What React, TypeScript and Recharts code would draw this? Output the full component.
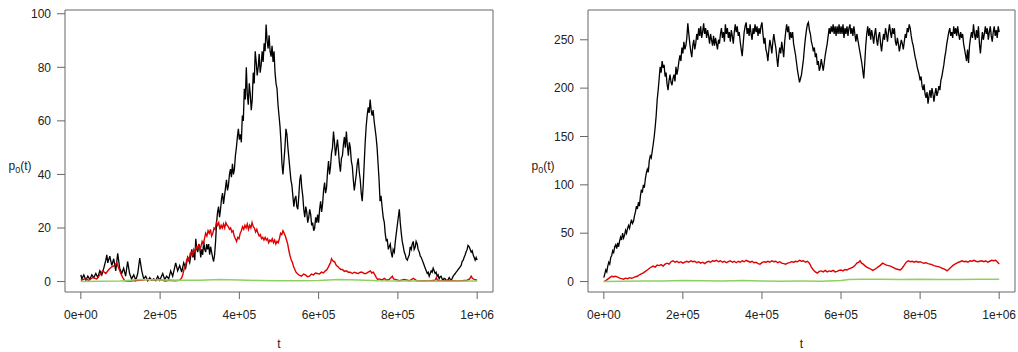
import React from "react";
import { LineChart, Line, XAxis, YAxis, ReferenceArea } from "recharts";

const FONT = "'Liberation Sans', Arial, Helvetica, sans-serif";
const TEXT = "#222";
const FRAME = "#666";

// t is given in thousands (1000 = 1e+06)
const xDomain: [number, number] = [-40, 1040];
const xTicks = [0, 200, 400, 600, 800, 1000];
const xTickLabels = ["0e+00", "2e+05", "4e+05", "6e+05", "8e+05", "1e+06"];
const xTitle = "t";
const yTitleMain = "p";
const yTitleSub = "0";
const yTitleTail = "(t)";

const leftYDomain: [number, number] = [-3.9, 101.4];
const leftYTicks = [0, 20, 40, 60, 80, 100];
const rightYDomain: [number, number] = [-10.8, 280.8];
const rightYTicks = [0, 50, 100, 150, 200, 250];

const leftBlack: [number, number][] = [
  [0, 2.5], [2.5, 1], [7.5, 2.5], [12.6, 0.5], [17.6, 2], [22.7, 0.8], [27.7, 2.5], [32.7, 1.5], [37.8, 3], [42.8, 1.5],
  [47.9, 4], [52.9, 2.5], [57.9, 5], [63, 8], [65.5, 10], [68, 7], [73, 9.5], [78, 6], [83, 8.5], [88, 4],
  [93, 10.5], [98, 5], [103, 3], [108, 5], [113, 2], [118, 7.5], [123, 3], [128, 1], [133.5, 2.5], [138.5, 0.5],
  [143.6, 3], [148.6, 8.8], [153.7, 4], [158.7, 1], [163.7, 2], [168.8, 0.3], [173.8, 1.5], [178.8, 0.5], [184, 1], [189, 0.3],
  [194, 2], [199, 0.5], [206.6, 3], [211.6, 0.8], [216.6, 2], [221.7, 1], [226.7, 4], [231.7, 2], [239.3, 7], [244.3, 4],
  [249.4, 6], [254.4, 3.5], [259.5, 7], [264.5, 5], [269.5, 9], [274.6, 7],
  [280, 12], [282.5, 9], [285, 11], [287.5, 8], [290, 16], [292.5, 12], [295, 11], [297.5, 14], [300, 13], [302.5, 9],
  [305, 12], [307.5, 10], [310, 15], [312.5, 12], [315, 11], [317.5, 14], [320, 12], [322.5, 14], [325, 10], [327.5, 13],
  [330, 11], [332.5, 9], [335, 7.5], [337.5, 10], [340, 15], [342.5, 22], [345, 26], [347.5, 28], [350, 24], [352.5, 27],
  [355, 31], [357.5, 33], [360, 29], [362.5, 32], [365, 35], [367.5, 38], [370, 34], [372.5, 36], [375, 40], [377.5, 42],
  [380, 39], [382.5, 44], [385, 40], [387.5, 42], [390, 47], [392.5, 50], [395, 54], [397.5, 57], [400, 53], [402.5, 55],
  [405, 52], [407.5, 62], [410, 60], [412.5, 72], [415, 68], [417.5, 80], [420, 70], [422.5, 66], [425, 74], [427.5, 70],
  [430, 64], [432.5, 68], [435, 78], [437.5, 74], [440, 86], [442.5, 82], [445, 77], [447.5, 80], [450, 85], [452.5, 78],
  [455, 81], [457.5, 86], [460, 82], [462.5, 89], [465, 86], [467.5, 96], [470, 90], [472.5, 87], [475, 92], [477.5, 86],
  [480, 84], [482.5, 88], [485, 82], [487.5, 86], [490, 78], [492.5, 74], [495, 72], [497.5, 66], [500, 62], [502.5, 58],
  [505, 52], [507.5, 44], [510, 40], [512.5, 45], [515, 50], [517.5, 57], [520, 55], [522.5, 50], [525, 46], [527.5, 42],
  [530, 38], [532.5, 36], [535, 32], [537.5, 28], [540, 31], [542.5, 32], [545, 28], [547.5, 27], [550, 32], [552.5, 38],
  [555, 40], [557.5, 35], [560, 32], [562.5, 27], [565, 24], [567.5, 28], [570, 26], [572.5, 22], [575, 24], [577.5, 27],
  [580, 25], [582.5, 21], [585, 22], [587.5, 19], [590, 20], [592.5, 24], [595, 22], [597.5, 25], [600, 22], [602.5, 27],
  [605, 30], [607.5, 26], [610, 29], [612.5, 34], [615, 37], [617.5, 33], [620, 35], [622.5, 41], [625, 45], [627.5, 40],
  [630, 43], [632.5, 48], [635, 50], [637.5, 56], [640, 52], [642.5, 47], [645, 50], [647.5, 53], [650, 49], [652.5, 44],
  [655, 41], [657.5, 46], [660, 47], [662.5, 51], [665, 54], [667.5, 50], [670, 56], [672.5, 51], [675, 47], [677.5, 52],
  [680, 50], [682.5, 45], [685, 43], [687.5, 38], [690, 34], [692.5, 37], [695, 40], [697.5, 44], [700, 46], [702.5, 41],
  [705, 38], [707.5, 33], [710, 30], [712.5, 36], [715, 44], [717.5, 52], [720, 58], [722.5, 62], [725, 65], [727.5, 63],
  [730, 68], [732.5, 64], [735, 62], [737.5, 64], [740, 60], [742.5, 57], [745, 54], [747.5, 50], [750, 44], [752.5, 38],
  [755, 30], [757.5, 32], [760.7, 27], [763, 24], [765.8, 22], [768, 18], [770.8, 15], [773, 16], [775.9, 12], [778, 13],
  [780.9, 14], [783, 11], [785.9, 9], [788, 12], [791, 11], [793.5, 15], [796, 18], [798.5, 21], [801, 24], [803.6, 27],
  [806, 22], [808.6, 18], [811, 15], [813.6, 13], [816, 11], [818.7, 10], [821, 8.5], [823.7, 8], [826, 9], [828.8, 10],
  [831, 13], [833.8, 12], [836, 14], [838.8, 15], [841, 12], [843.9, 13], [846, 15], [848.9, 14], [851, 12], [854, 11],
  [856.5, 9.5], [859, 9], [861.5, 8], [864, 7], [866.5, 6], [869, 5], [871.5, 4], [874, 3], [876.5, 3.5], [879, 2],
  [881.5, 3], [884, 4], [886.5, 3.5], [889, 5], [891.5, 4], [894, 3], [896.5, 3.5], [899, 2], [901.5, 2.5], [904, 1],
  [906.5, 1.8], [909, 2], [911.5, 1], [914, 0.5], [916.5, 1.2], [919, 1], [921.5, 0.6], [924.5, 0.3], [927, 0.8], [929.5, 1.5],
  [932, 0.8], [934.5, 0.5], [937, 1.2], [939.6, 2], [942, 2.5], [944.6, 3], [947, 3.5], [949.7, 4], [952, 4.5], [954.7, 5],
  [957, 5.5], [959.7, 6], [962, 7.5], [964.8, 8], [967, 9], [969.8, 10], [972, 11], [974.8, 12], [977, 13.5], [980, 13],
  [982.5, 12], [985, 11], [987.5, 11.5], [990, 10], [992.5, 9], [995, 8], [997.5, 9], [1000, 8],
];

const leftRed: [number, number][] = [
  [0, 0.5], [10, 1], [20, 0.5], [30, 1.5], [40, 1], [48, 2.5], [55, 4], [63, 3], [70.5, 4.5], [78, 5.5],
  [85.6, 6], [90.7, 7], [95.7, 5], [100.8, 3], [105.8, 1.5], [110.8, 0.3], [123, 0.2], [148.6, 0.5], [174, 0.8], [186, 0.5],
  [199, 0.8], [212, 0.2], [224, 0.5], [237, 0.3], [250, 0.5], [255, 1.5], [258, 3], [261, 5], [264, 6], [267, 8],
  [270, 9], [273, 8], [276, 10.5], [279, 11], [282, 10], [285, 12], [288, 11], [291, 13], [294, 12.5], [297, 13.5],
  [300, 12], [303, 13], [306, 15], [309, 14], [312, 16], [315, 18], [318, 17], [321, 19], [324, 18], [327, 19.5],
  [330, 17], [333, 18], [336, 20], [339, 19.5], [342, 22], [345, 21], [348, 22], [351, 19.5], [354, 21], [357, 20],
  [360, 21.5], [363, 20], [366, 22], [369, 21], [372, 20.5], [375, 19.5], [378, 20], [381, 18.5], [384, 19], [387, 17],
  [390, 16], [393, 15], [396, 16.5], [399, 16], [402, 18], [405, 19], [408, 20.5], [411, 19.5], [414, 21], [417, 20],
  [420, 21.5], [423, 19.5], [426, 21], [429, 20], [432, 22], [435, 20.5], [438, 20], [441, 18.5], [444, 19.5], [447, 18],
  [450, 17], [453, 17.5], [456, 16], [459, 16.5], [462, 15.5], [465, 16.5], [468, 15.5], [471, 16], [474, 14.5], [477, 15.5],
  [480, 15], [483, 16], [486, 14.5], [489, 15.5], [492, 14], [495, 15], [498, 14.5], [501, 16], [504, 18], [507, 17.5],
  [510, 19], [513, 18], [516, 17], [519, 15.5], [522, 14], [525, 11.5], [528, 9.5], [531, 8], [534, 7], [537, 5.5],
  [540, 4.5], [543, 3.5], [546, 3], [550, 2.5], [556.7, 2], [562, 2.8], [566.8, 2.5], [572, 1.8], [577, 2], [582, 2.8],
  [587, 2.5], [592, 3.2], [597, 3], [602, 2.8], [607, 3.5], [612, 3.2], [617, 4], [621, 4.5], [624.7, 5.5], [628, 6.5],
  [630, 7], [632.5, 8.5], [634.8, 8], [637.5, 7.5], [640, 7.5], [643, 6.5], [645, 6], [649, 5.5], [652.4, 5], [656, 4.5],
  [660, 4.5], [665, 3.8], [670, 4], [675, 3.5], [680, 3.5], [685, 3], [690, 3.5], [695, 3.2], [700, 3], [705, 3.5],
  [710, 3.5], [715, 3], [720, 3], [725, 3.5], [730.5, 4], [734, 3.2], [738, 3.5], [742, 2.5], [745.6, 1.5], [749, 0.8],
  [753, 1], [760, 0.6], [766, 1.2], [772, 0.5], [778, 0.8], [786, 2], [789, 1], [793.5, 0.8], [803.6, 0.3], [816, 0.8],
  [829, 0.3], [839, 1.2], [849, 0.2], [866.5, 0.3], [879, 0.2], [894, 0.5], [897, 1.5], [900, 0.4], [904, 0.2], [929.5, 0.3],
  [954.7, 0.2], [974.8, 0.5], [981, 1], [985, 2], [988, 1.2], [992.5, 0.8], [1000, 0.5],
];

const leftGreen: [number, number][] = [
  [0, 0], [100, 0.2], [150, 0.8], [200, 0.6], [250, 0.5], [300, 0.5], [350, 0.8], [400, 0.6], [450, 0.4], [500, 0.3],
  [550, 0.3], [600, 0.4], [650, 0.8], [700, 0.6], [750, 0.3], [800, 0.2], [850, 0.2], [900, 0.1], [1000, 0.2],
];

const rightBlack: [number, number][] = [
  [0, 4], [2.5, 8], [5, 12], [7.5, 10], [10, 16], [12.5, 20], [15, 18], [17.5, 25], [20, 27], [22.5, 32],
  [25, 30], [27.5, 36], [30, 38], [32.5, 34], [35, 40], [37.5, 36], [40, 42], [42.5, 46], [45, 43], [47.5, 50],
  [50, 45], [52.5, 48], [55, 53], [57.5, 50], [60, 55], [62.5, 58], [65, 55], [67.5, 60], [70, 64], [72.5, 60],
  [75, 62], [77.5, 68], [80, 72], [82.5, 78], [85, 75], [87.5, 82], [90, 78], [92.5, 88], [95, 95], [97.5, 92],
  [100, 100], [102.5, 97], [105, 106], [107.5, 112], [110, 116], [112.5, 113], [115, 125], [117.5, 130], [120, 128], [122.5, 135],
  [125, 142], [127.5, 150], [130, 160], [132.5, 172], [135, 188], [137.5, 198], [140, 210], [142.5, 222], [145, 216], [147.5, 228],
  [150, 221], [152.5, 224], [155, 212], [157.5, 216], [160, 204], [162.5, 198], [165, 208], [167.5, 214], [170, 206], [172.5, 203],
  [175, 210], [177.5, 214], [180, 207], [182.5, 222], [185, 214], [187.5, 220], [190, 228], [192.5, 234], [195, 228], [197.5, 242],
  [200, 236], [202.5, 248], [205, 240], [207.5, 244], [210, 252], [212.5, 267], [215, 256], [217.5, 246], [220, 238], [222.5, 232],
  [225, 244], [227.5, 250], [230, 240], [232.5, 246], [235, 256], [237.5, 250], [240, 262], [242.5, 254], [245, 264], [247.5, 252],
  [250, 258], [252.5, 267], [255, 256], [257.5, 262], [260, 252], [262.5, 260], [265, 254], [267.5, 246], [270, 256], [272.5, 250],
  [275, 244], [277.5, 254], [280, 244], [282.5, 252], [285, 246], [287.5, 240], [290, 250], [292.5, 246], [295, 256], [297.5, 262],
  [300, 252], [302.5, 258], [305, 248], [307.5, 266], [310, 256], [312.5, 262], [315, 252], [317.5, 258], [320, 248], [322.5, 260],
  [325, 254], [327.5, 246], [330, 258], [332.5, 266], [335, 258], [337.5, 264], [340, 254], [342.5, 258], [345, 248], [347.5, 240],
  [350, 233], [352.5, 246], [355, 258], [357.5, 264], [360, 268], [362.5, 256], [365, 262], [367.5, 254], [370, 266], [372.5, 256],
  [375, 250], [377.5, 262], [380, 256], [382.5, 266], [385, 258], [387.5, 264], [390, 254], [392.5, 262], [395, 256], [397.5, 264],
  [400, 268], [402.5, 256], [405, 246], [407.5, 252], [410, 240], [412.5, 236], [415, 228], [417.5, 240], [420, 250], [422.5, 244],
  [425, 236], [427.5, 248], [430, 256], [432.5, 248], [435, 242], [437.5, 232], [440, 222], [442.5, 234], [445, 242], [447.5, 236],
  [450, 248], [452.5, 240], [455, 232], [457.5, 248], [460, 258], [462.5, 266], [465, 258], [467.5, 264], [470, 250], [472.5, 258],
  [475, 252], [477.5, 258], [480, 246], [482.5, 240], [485, 234], [487.5, 226], [490, 218], [492.5, 212], [495, 206], [497.5, 210],
  [500, 214], [502.5, 222], [505, 230], [507.5, 242], [510, 252], [512.5, 260], [515, 266], [517.5, 268], [520, 260], [522.5, 256],
  [525, 248], [527.5, 244], [530, 238], [532.5, 242], [535, 232], [537.5, 236], [540, 224], [542.5, 228], [545, 218], [547.5, 222],
  [550, 230], [552.5, 224], [555, 218], [557.5, 226], [560, 234], [562.5, 240], [565, 246], [567.5, 254], [570, 262], [572.5, 256],
  [575, 264], [577.5, 258], [580, 266], [582.5, 256], [585, 264], [587.5, 254], [590, 264], [592.5, 256], [595, 266], [597.5, 256],
  [600, 264], [602.5, 256], [605, 266], [607.5, 252], [610, 262], [612.5, 256], [615, 264], [617.5, 254], [620, 262], [622.5, 266],
  [625, 256], [627.5, 262], [630, 254], [632.5, 264], [635, 256], [637.5, 248], [640, 256], [642.5, 250], [645, 244], [647.5, 238],
  [650, 232], [652.5, 226], [655, 218], [657.5, 210], [660, 226], [662.5, 244], [665, 256], [667.5, 264], [670, 254], [672.5, 262],
  [675, 250], [677.5, 260], [680, 254], [682.5, 246], [685, 256], [687.5, 262], [690, 250], [692.5, 244], [695, 254], [697.5, 258],
  [700, 246], [702.5, 238], [705, 248], [707.5, 256], [710, 250], [712.5, 262], [715, 256], [717.5, 248], [720, 258], [722.5, 266],
  [725, 258], [727.5, 252], [730, 262], [732.5, 256], [735, 262], [737.5, 248], [740, 244], [742.5, 252], [745, 246], [747.5, 238],
  [750, 244], [752.5, 250], [755, 246], [757.5, 240], [760, 248], [762.5, 256], [765, 252], [767.5, 262], [770, 258], [772.5, 266],
  [775, 262], [777.5, 254], [780, 248], [782.5, 244], [785, 238], [787.5, 232], [790, 228], [792.5, 222], [795, 218], [797.5, 214],
  [800, 208], [802.5, 212], [805, 202], [807.5, 198], [810, 204], [812.5, 194], [815, 190], [817.5, 196], [820, 184], [822.5, 192],
  [825, 198], [827.5, 190], [830, 200], [832.5, 194], [835, 186], [837.5, 194], [840, 200], [842.5, 192], [845, 196], [847.5, 202],
  [850, 198], [852.5, 208], [855, 212], [857.5, 218], [860, 224], [862.5, 232], [865, 238], [867.5, 246], [870, 252], [872.5, 258],
  [875, 262], [877.5, 254], [880, 258], [882.5, 252], [885, 264], [887.5, 256], [890, 262], [892.5, 254], [895, 264], [897.5, 256],
  [900, 250], [902.5, 258], [905, 252], [907.5, 256], [910, 246], [912.5, 240], [915, 234], [917.5, 228], [920, 240], [922.5, 226],
  [925, 244], [927.5, 252], [930, 258], [932.5, 252], [935, 266], [937.5, 256], [940, 250], [942.5, 260], [945, 252], [947.5, 264],
  [950, 246], [952.5, 236], [955, 248], [957.5, 258], [960, 250], [962.5, 256], [965, 264], [967.5, 256], [970, 262], [972.5, 250],
  [975, 258], [977.5, 264], [980, 254], [982.5, 248], [985, 258], [987.5, 264], [990, 254], [992.5, 260], [995, 252], [997.5, 264],
  [1000, 258],
];

const rightRed: [number, number][] = [
  [0, 0], [5, 1], [10, 2.5], [15, 4], [20, 5.5], [25, 5], [30, 5.5], [35, 4.5], [40, 3.5], [45, 3],
  [50, 2.5], [55, 3.5], [60, 3], [65, 4], [70, 3.5], [75, 4], [80, 5], [85, 5.5], [90, 7], [95, 8],
  [100, 9], [105, 10.5], [110, 12], [115, 13.5], [120, 15], [125, 16], [130, 15], [135, 17], [140, 16.5], [145, 17.5],
  [150, 16], [155, 18], [160, 19], [165, 18], [170, 20.5], [175, 21.5], [180, 20], [185, 21], [190, 19.5], [195, 20.5],
  [200, 19], [205, 20], [210, 21], [215, 20], [220, 21.5], [225, 20.5], [230, 21], [235, 19.5], [240, 20.5], [245, 19],
  [250, 20], [255, 18.5], [260, 20], [265, 21], [270, 20], [275, 21.5], [280, 21], [285, 22], [290, 20.5], [295, 21.5],
  [300, 20], [305, 21], [310, 19.5], [315, 20.5], [320, 21.5], [325, 20], [330, 21], [335, 19.5], [340, 21], [345, 20],
  [350, 21.5], [355, 20.5], [360, 22], [365, 21], [370, 20], [375, 21], [380, 19.5], [385, 20], [390, 18.5], [395, 18],
  [400, 19.5], [405, 20.5], [410, 20], [415, 21], [420, 20], [425, 21.5], [430, 20.5], [435, 21], [440, 19.5], [445, 20.5],
  [450, 19], [455, 18.5], [460, 18], [465, 19], [470, 19.5], [475, 20.5], [480, 20], [485, 21], [490, 20.5], [495, 22],
  [500, 21], [505, 21.5], [510, 20], [515, 21], [520, 19], [525, 15], [530, 12], [535, 10], [540, 8.8], [545, 10.5],
  [550, 11], [555, 10], [560, 11.5], [565, 10], [570, 11], [575, 10.5], [580, 11.5], [585, 10], [590, 10.5], [595, 11.5],
  [600, 12], [605, 11], [610, 12.5], [615, 12], [620, 13], [625, 14], [630, 15], [635, 16.5], [640, 19], [645, 20],
  [648, 21.5], [652, 19], [656, 18], [660, 16.5], [665, 15], [670, 14], [675, 13], [680, 11.5], [685, 12.5], [690, 14],
  [695, 15.5], [700, 17], [705, 19], [710, 18], [715, 17], [720, 16.5], [725, 16], [730, 15], [735, 14], [740, 13],
  [745, 12.5], [750, 12], [755, 14], [760, 17], [765, 20], [770, 21.5], [775, 20.5], [780, 21], [785, 20], [790, 21],
  [795, 20], [800, 20.5], [805, 19.5], [810, 19], [815, 19.5], [820, 18.5], [825, 18], [830, 17.5], [835, 16.5], [840, 16],
  [845, 15.5], [850, 15], [855, 14], [860, 13], [865, 12], [868, 11], [872, 12.5], [876, 14], [880, 15.5], [884, 17],
  [888, 18], [893, 19], [897, 20], [901, 20.5], [906, 21.5], [911, 20.5], [916, 21], [921, 20], [926, 21.5], [931, 21],
  [936, 22], [941, 21], [946, 20.5], [951, 21], [956, 21.5], [961, 20.5], [966, 21.5], [971, 20], [976, 21], [981, 22],
  [986, 21.5], [991, 22], [996, 20], [1000, 18],
];

const rightGreen: [number, number][] = [
  [0, 0], [50, 0.3], [100, 0.5], [150, 0.5], [200, 1], [250, 0.8], [300, 0.5], [350, 1], [400, 0.6], [450, 0.3],
  [500, 0.5], [550, 0.4], [600, 1], [620, 2.2], [650, 2.5], [700, 2.5], [750, 2], [800, 2.3], [850, 2], [900, 2.2],
  [950, 2.5], [1000, 2.4],
];

const toRows = (arr: [number, number][]) => arr.map(([t, v]) => ({ t, v }));

const YTitle = (props: any) => (
  <text x={props.cx} y={170} textAnchor="middle" fill={TEXT} fontSize={12} fontFamily={FONT}>
    {yTitleMain}
    <tspan fontSize={9} dy={3}>{yTitleSub}</tspan>
    <tspan dy={-3}>{yTitleTail}</tspan>
  </text>
);

type PanelProps = {
  left: number;
  width: number;
  frameLeft: number;
  rightMargin: number;
  yDomain: [number, number];
  yTicks: number[];
  black: [number, number][];
  red: [number, number][];
  green: [number, number][];
};

function Panel({ left, width, frameLeft, rightMargin, yDomain, yTicks, black, red, green }: PanelProps) {
  return (
    <div style={{ position: "absolute", left, top: 0, width, height: 352 }}>
      <LineChart width={width} height={352} margin={{ top: 10, right: rightMargin, bottom: 0, left: 0 }}>
        <XAxis
          dataKey="t"
          type="number"
          domain={xDomain}
          ticks={xTicks}
          interval={0}
          allowDataOverflow
          height={60}
          axisLine={false}
          tickLine={{ stroke: FRAME }}
          tickSize={7}
          tickMargin={11}
          tick={{ fill: TEXT, fontSize: 12, fontFamily: FONT }}
          tickFormatter={(v: number) => xTickLabels[xTicks.indexOf(v)]}
          label={{ value: xTitle, position: "insideBottom", offset: 4, fill: TEXT, fontSize: 12, fontFamily: FONT }}
        />
        <YAxis
          type="number"
          domain={yDomain}
          ticks={yTicks}
          interval={0}
          allowDataOverflow
          width={frameLeft}
          axisLine={false}
          tickLine={{ stroke: FRAME }}
          tickSize={8}
          tickMargin={6}
          tick={{ fill: TEXT, fontSize: 12, fontFamily: FONT }}
          label={<YTitle cx={frameLeft - 45} />}
        />
        <ReferenceArea
          x1={xDomain[0]}
          x2={xDomain[1]}
          y1={yDomain[0]}
          y2={yDomain[1]}
          fill="none"
          fillOpacity={0}
          stroke={FRAME}
          strokeWidth={1}
          ifOverflow="visible"
        />
        <Line data={toRows(black)} dataKey="v" stroke="#000000" strokeWidth={1.3} dot={false} activeDot={false} isAnimationActive={false} />
        <Line data={toRows(red)} dataKey="v" stroke="#e00000" strokeWidth={1.4} dot={false} activeDot={false} isAnimationActive={false} />
        <Line data={toRows(green)} dataKey="v" stroke="#8fd060" strokeWidth={1.5} dot={false} activeDot={false} isAnimationActive={false} />
      </LineChart>
    </div>
  );
}

export default function App() {
  return (
    <div style={{ position: "absolute", left: 0, top: 0, width: 1018, height: 352, background: "#fff" }}>
      <Panel left={0} width={509} frameLeft={65} rightMargin={16} yDomain={leftYDomain} yTicks={leftYTicks} black={leftBlack} red={leftRed} green={leftGreen} />
      <Panel left={509} width={509} frameLeft={79} rightMargin={3} yDomain={rightYDomain} yTicks={rightYTicks} black={rightBlack} red={rightRed} green={rightGreen} />
    </div>
  );
}
